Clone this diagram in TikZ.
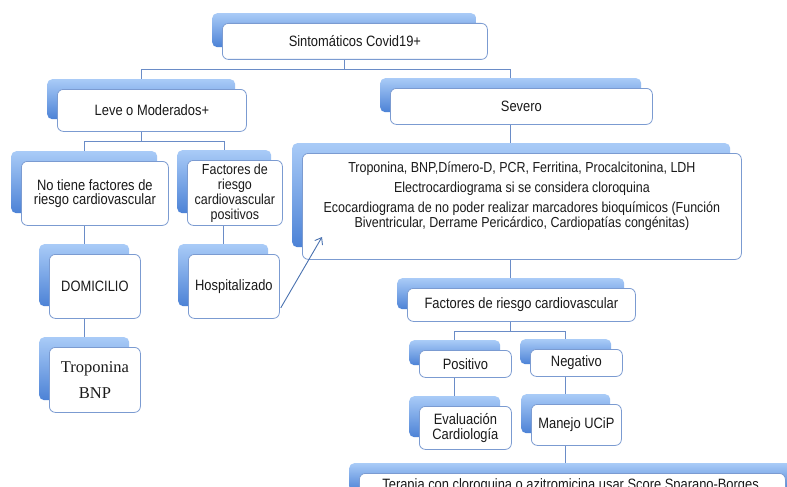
\documentclass[tikz,border=0pt]{standalone}
\usepackage{fontspec}
\setmainfont{Liberation Sans}[FakeStretch=0.86]
\newfontfamily\serifx{Liberation Serif}
\usetikzlibrary{arrows.meta,calc,backgrounds}
\definecolor{tabtop}{HTML}{A9CBF7}
\definecolor{tabbot}{HTML}{4C82D6}
\definecolor{boxline}{HTML}{7B9BD1}
\definecolor{linecol}{HTML}{6A8CC7}
\definecolor{arrcol}{HTML}{4A72B0}
\definecolor{txt}{HTML}{1A1A1A}
\tikzset{
  tabshape/.style={top color=tabtop, bottom color=tabbot, draw=none, rounded corners=5pt, inner sep=0pt, anchor=north west},
  wbox/.style={draw=boxline, fill=white, line width=0.8pt, rounded corners=6pt, inner sep=1pt, align=center,
    anchor=north west, font=\fontsize{15}{16}\selectfont, text=txt},
  conn/.style={draw=linecol, line width=0.8pt},
  arr/.style={draw=arrcol, line width=0.9pt, -{Straight Barb[length=6pt,width=9pt]}},
}
% [opts]{name}{x1}{y1}{x2}{y2}{text}
\newcommand{\tabbox}[7][]{%
  \node[tabshape, minimum width={(#5)-(#3)-1}, minimum height={(#6)-(#4)-2}] (#2T) at ({#3-10},{#4-10}) {};
  \node[wbox, minimum width={(#5)-(#3)}, minimum height={(#6)-(#4)}, #1] (#2) at (#3,#4) {#7};
}
\begin{document}
\begin{tikzpicture}[x=1pt,y=-1pt]
\useasboundingbox (0,0) rectangle (787,487);
\clip (0,0) rectangle (787,487);

\tabbox{top}{222}{23}{487}{59}{Sintomáticos Covid19+}
\tabbox{leve}{57}{89}{246}{131}{Leve o Moderados+}
\tabbox{sev}{390}{88}{652}{124}{Severo}
\tabbox[font=\fontsize{15}{14.5}\selectfont]{notiene}{21}{161}{168}{225}{No tiene factores de\\riesgo cardiovascular}
\tabbox[font=\fontsize{14.5}{15}\selectfont]{factpos}{187}{160}{282}{225}{Factores de\\riesgo\\cardiovascular\\positivos}
\tabbox[font=\fontsize{14.5}{15}\selectfont,
  label={[anchor=north, yshift=-5pt, align=center, font=\fontsize{14.5}{15}\selectfont, text=txt]north:{Troponina, BNP,Dímero-D, PCR, Ferritina, Procalcitonina, LDH\\[5pt]
  Electrocardiograma si se considera cloroquina\\[5pt]
  Ecocardiograma de no poder realizar marcadores bioquímicos (Función\\
  Biventricular, Derrame Pericárdico, Cardiopatías congénitas)}}]{big}{302}{153}{741}{259}{}
\tabbox{domic}{49}{254}{140}{318}{DOMICILIO}
\tabbox{hosp}{188}{254}{279}{318}{Hospitalizado}
\tabbox[font=\serifx\fontsize{16.5}{26}\selectfont]{tropo}{49}{347}{140}{412}{Troponina\\BNP}
\tabbox{frc}{407}{288}{635}{321}{Factores de riesgo cardiovascular}
\tabbox{posit}{419}{350}{511}{377}{Positivo}
\tabbox{negat}{530}{349}{622}{376}{Negativo}
\tabbox[font=\fontsize{15}{15}\selectfont]{evalc}{419}{406}{511}{449}{Evaluación\\Cardiología}
\tabbox{manejo}{531}{404}{621}{445}{Manejo UCiP}
\node[tabshape, minimum width=451, minimum height=28] (terapiaT) at (349,463) {};
\node[wbox, minimum width=426, minimum height=24, anchor=north west] (terapia) at (359,473)
  {Terapia con cloroquina o azitromicina usar Score Sparano-Borges.};

\begin{scope}[on background layer]
\fill[white] (0,0) rectangle (787,487);
\draw[conn] (top.south -| topT.south) -- ++(0,10) coordinate (j1);
\draw[conn] (leveT.north) |- (j1) -| (sevT.north);
\draw[conn] (leve.south -| leveT.south) -- ++(0,10) coordinate (j2);
\draw[conn] (notieneT.north) |- (j2) -| (factposT.north);
\draw[conn] (sev.south -| sevT.south) -- (sevT.south |- bigT.north);
\draw[conn] (notiene.south -| domicT.north) -- (domicT.north);
\draw[conn] (domic.south -| tropoT.north) -- (tropoT.north);
\draw[conn] (factpos.south -| hospT.north) -- (hospT.north);
\draw[conn] (big.south -| frcT.north) -- (frcT.north);
\draw[conn] (frc.south -| frcT.south) -- ++(0,10) coordinate (j3);
\draw[conn] (positT.north) |- (j3) -| (negatT.north);
\draw[conn] (posit.south -| evalcT.north) -- (evalcT.north);
\draw[conn] (negat.south -| manejoT.north) -- (manejoT.north);
\draw[conn] (manejo.south -| manejoT.south) -- (manejoT.south |- terapiaT.north);
\end{scope}

\coordinate (arrEnd) at (322,237);
\draw[arr] ($(hosp.south east)+(1,-11)$) -- (arrEnd);
\end{tikzpicture}
\end{document}
